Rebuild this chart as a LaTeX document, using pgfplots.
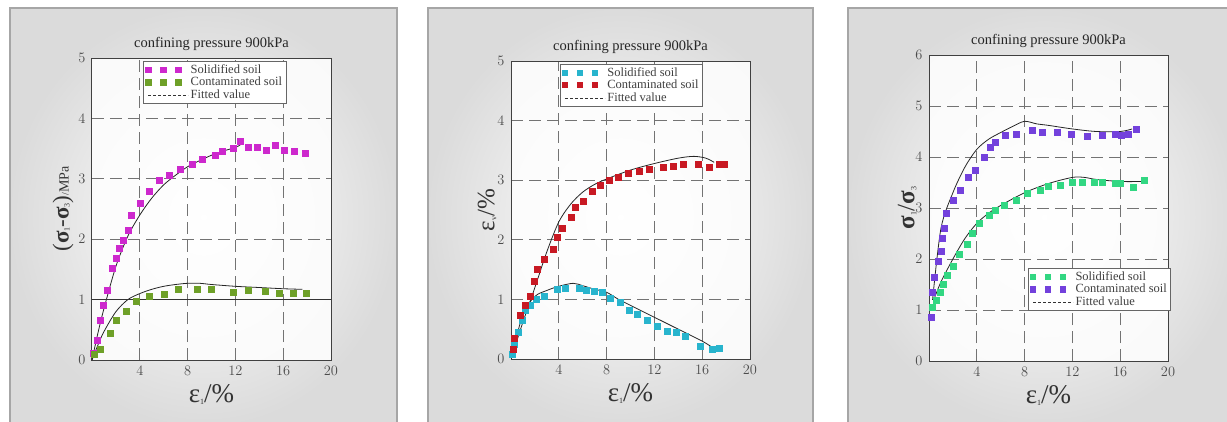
\documentclass[border=0pt]{standalone}
\usepackage{fontspec}
\setmainfont{Liberation Serif}
\usepackage{pgfplots}
\pgfplotsset{compat=1.18}
\definecolor{magsoil}{RGB}{205,40,205}
\definecolor{olvsoil}{RGB}{110,160,40}
\definecolor{cyansoil}{RGB}{40,180,205}
\definecolor{redsoil}{RGB}{200,25,35}
\definecolor{purpsoil}{RGB}{115,65,220}
\definecolor{sprsoil}{RGB}{50,215,130}

\pgfplotsset{
  panel/.style={
    scale only axis, width=239pt,
    xmin=0, xmax=20, xtick={4,8,12,16,20}, ymin=0,
    axis line style={black!75, line width=1pt},
    major tick length=0pt,
    grid=major,
    major grid style={black!55, line width=0.9pt, dash pattern=on 12pt off 6pt},
    tick label style={font=\fontsize{15.5}{18}\selectfont, text=black!70},
    xticklabel style={yshift=-3pt},
    yticklabel style={xshift=-3pt},
    axis background/.style={fill=white, fill opacity=0.85},
    title={confining pressure 900kPa},
    title style={font=\fontsize{14.5}{16}\selectfont, text=black!85, yshift=-2pt},
    xlabel={\fontsize{27}{28}\selectfont ε\raisebox{-2pt}{\fontsize{8}{9}\selectfont 1}/\%},
    xlabel style={text=black!80, yshift=-2pt},
    ylabel style={text=black!80},
    legend style={draw=black!60, line width=0.8pt, fill=white,
      font=\fontsize{12.5}{13}\selectfont, text=black!75,
      row sep=-1.5pt, inner xsep=2pt, inner ysep=1pt, cells={anchor=west}},
  },
  pts/.style={only marks, mark=square*, mark size=3pt, color=#1,
    legend image code/.code={\draw[mark size=2.6pt] plot coordinates {(0pt,0pt)(15pt,0pt)(30pt,0pt)};}},
  fit/.style={black!85, line width=0.8pt, smooth, no marks,
    legend image code/.code={\draw[densely dashed, black!80, line width=0.7pt] (0pt,0pt) -- (40pt,0pt);}},
}

\begin{document}
\begin{tikzpicture}
\path[use as bounding box] (0pt,0pt) rectangle (1227pt,421pt);
% grey frames behind each panel
\shade[inner color=white, outer color=black!14] (10pt,-5pt) rectangle (397pt,413pt);
\draw[black!35, line width=1.2pt] (10pt,-5pt) rectangle (397pt,413pt);
\shade[inner color=white, outer color=black!14] (428pt,-5pt) rectangle (813pt,413pt);
\draw[black!35, line width=1.2pt] (428pt,-5pt) rectangle (813pt,413pt);
\shade[inner color=white, outer color=black!14] (848pt,-5pt) rectangle (1240pt,413pt);
\draw[black!35, line width=1.2pt] (848pt,-5pt) rectangle (1240pt,413pt);

% ---------- panel 1: deviator stress
\begin{axis}[panel, at={(92pt,61pt)}, anchor=south west, height=302pt,
    ymax=5, ytick={0,1,2,3,4,5},
    ylabel={{\fontsize{23}{24}\selectfont (\textbf{σ}\raisebox{-1pt}{\fontsize{8}{9}\selectfont 1}-\textbf{σ}\raisebox{-1pt}{\fontsize{8}{9}\selectfont 3})}/{\fontsize{14}{15}\selectfont MPa}},
    ylabel style={yshift=-2pt},
    legend style={at={(rel axis cs:0.215,0.99)}, anchor=north west}]
\addplot[pts=magsoil] coordinates {
 (0.1,0.12) (0.4,0.33) (0.67,0.66) (0.95,0.91) (1.28,1.16) (1.7,1.52) (2.05,1.68)
 (2.3,1.85) (2.6,1.99) (3.0,2.15) (3.3,2.40) (4.0,2.59) (4.8,2.79) (5.6,2.98)
 (6.5,3.06) (7.4,3.16) (8.35,3.24) (9.2,3.32) (10.3,3.39) (10.9,3.45) (11.8,3.50)
 (12.4,3.63) (13.1,3.53) (13.8,3.52) (14.6,3.48) (15.3,3.56) (16.1,3.48) (16.9,3.46) (17.8,3.43)};
\addlegendentry{Solidified soil}
\addplot[pts=olvsoil] coordinates {
 (0.15,0.1) (0.67,0.18) (1.5,0.44) (2.0,0.66) (2.85,0.81) (3.74,0.97) (4.8,1.05)
 (6.05,1.09) (7.2,1.17) (8.8,1.17) (10.0,1.18) (11.8,1.12) (13.1,1.16) (14.5,1.14)
 (15.7,1.11) (16.8,1.11) (17.9,1.11)};
\addlegendentry{Contaminated soil}
\addplot[fit] coordinates {
 (0,0) (0.5,0.45) (1,0.85) (2,1.55) (3,2.05) (4,2.4) (5,2.68) (6,2.9) (7,3.06)
 (8,3.2) (9,3.3) (10,3.39) (11,3.46) (12,3.52) (12.4,3.56)};
\addlegendentry{Fitted value}
\addplot[fit, forget plot] coordinates {
 (0,0) (0.5,0.25) (1,0.47) (2,0.8) (3,1.0) (4,1.1) (5,1.17) (6,1.22) (7,1.25)
 (8,1.27) (9,1.27) (10,1.25) (12,1.22) (14,1.2) (16,1.18) (17.6,1.17)};
\addplot[black!80, line width=0.8pt, forget plot] coordinates {(0,1) (20,1)};
\end{axis}

% ---------- panel 2: volumetric strain
\begin{axis}[panel, at={(511pt,62pt)}, anchor=south west, height=298pt,
    ymax=5, ytick={0,1,2,3,4,5},
    ylabel={\fontsize{25}{26}\selectfont ε\raisebox{-2pt}{\fontsize{8}{9}\selectfont v}/\%},
    ylabel style={yshift=-6pt},
    legend style={at={(rel axis cs:0.205,0.99)}, anchor=north west}]
\addplot[pts=cyansoil] coordinates {
 (0.1,0.08) (0.3,0.25) (0.6,0.45) (0.9,0.65) (1.2,0.82) (1.6,0.9) (2.1,1.0)
 (2.8,1.05) (3.9,1.17) (4.5,1.18) (5.7,1.18) (6.3,1.15) (7.0,1.13) (7.6,1.12)
 (8.3,1.02) (9.1,0.95) (9.9,0.82) (10.6,0.75) (11.4,0.65) (12.2,0.55) (13.1,0.47)
 (13.8,0.45) (14.6,0.38) (15.8,0.22) (16.8,0.17) (17.4,0.18)};
\addlegendentry{Solidified soil}
\addplot[pts=redsoil] coordinates {
 (0.2,0.17) (0.25,0.35) (0.75,0.74) (1.2,0.9) (1.6,1.05) (1.9,1.3) (2.2,1.5)
 (2.8,1.68) (3.5,1.85) (3.9,2.05) (4.3,2.2) (5.0,2.38) (5.4,2.55) (6.0,2.65)
 (6.8,2.82) (7.5,2.92) (8.2,3.0) (9.0,3.05) (9.8,3.12) (10.7,3.15) (11.6,3.18)
 (12.7,3.22) (13.6,3.24) (14.4,3.27) (15.7,3.27) (16.6,3.22) (17.4,3.27) (17.8,3.27)};
\addlegendentry{Contaminated soil}
\addplot[fit] coordinates {
 (0,0) (1,0.62) (2,1.2) (3,1.8) (4,2.3) (5,2.6) (6,2.8) (7,2.93) (8,3.02) (10,3.17)
 (12,3.28) (14,3.37) (15.3,3.4) (16.3,3.37) (17,3.3)};
\addlegendentry{Fitted value}
\addplot[fit, forget plot] coordinates {
 (0,0) (1,0.75) (2,1.05) (3,1.15) (4,1.22) (5.2,1.27) (6,1.23) (7,1.17) (8,1.12)
 (9,1.0) (10,0.9) (12,0.7) (14,0.5) (16,0.3) (16.8,0.2)};
\end{axis}

% ---------- panel 3: principal stress ratio
\begin{axis}[panel, at={(929pt,60pt)}, anchor=south west, height=306pt,
    ymax=6, ytick={0,1,2,3,4,5,6},
    ylabel={\fontsize{25}{26}\selectfont \textbf{σ}\raisebox{-2pt}{\fontsize{8}{9}\selectfont 1}/\textbf{σ}\raisebox{-2pt}{\fontsize{8}{9}\selectfont 3}},
    ylabel style={yshift=-8pt},
    legend style={at={(rel axis cs:0.415,0.165)}, anchor=south west}]
\addplot[pts=sprsoil] coordinates {
 (0.3,1.05) (0.6,1.2) (0.9,1.35) (1.2,1.5) (1.5,1.68) (2.0,1.85) (2.5,2.1) (3.2,2.3)
 (3.6,2.5) (4.2,2.7) (5.0,2.85) (5.5,2.95) (6.3,3.05) (7.3,3.15) (8.2,3.3) (9.3,3.35)
 (10.0,3.42) (11.0,3.45) (12.0,3.5) (12.8,3.5) (13.8,3.5) (14.5,3.5) (15.6,3.48)
 (16.0,3.48) (17.1,3.4) (18.0,3.55)};
\addlegendentry{Solidified soil}
\addplot[pts=purpsoil] coordinates {
 (0.2,0.85) (0.3,1.35) (0.4,1.65) (0.8,1.95) (1.0,2.15) (1.1,2.4) (1.3,2.6) (1.4,2.9)
 (2.0,3.15) (2.6,3.35) (3.3,3.6) (3.9,3.75) (4.6,4.0) (5.1,4.2) (5.5,4.3) (6.4,4.42)
 (7.3,4.45) (8.6,4.52) (9.5,4.48) (10.7,4.48) (11.9,4.45) (13.2,4.40) (14.5,4.42)
 (15.6,4.45) (16.1,4.43) (16.7,4.45) (17.3,4.55)};
\addlegendentry{Contaminated soil}
\addplot[fit] coordinates {
 (0.3,1.2) (1,2.6) (2,3.3) (3,3.8) (4,4.15) (5,4.35) (6,4.48) (7,4.6) (8,4.7)
 (9,4.65) (10,4.62) (12,4.55) (14,4.5) (16,4.5) (17,4.55)};
\addlegendentry{Fitted value}
\addplot[fit, forget plot] coordinates {
 (0.4,1.2) (1,1.55) (2,2.0) (3,2.4) (4,2.7) (5,2.9) (6,3.05) (8,3.3) (10,3.48)
 (12,3.6) (13,3.6) (14,3.56) (16,3.52) (18,3.52)};
\end{axis}
\end{tikzpicture}
\end{document}
